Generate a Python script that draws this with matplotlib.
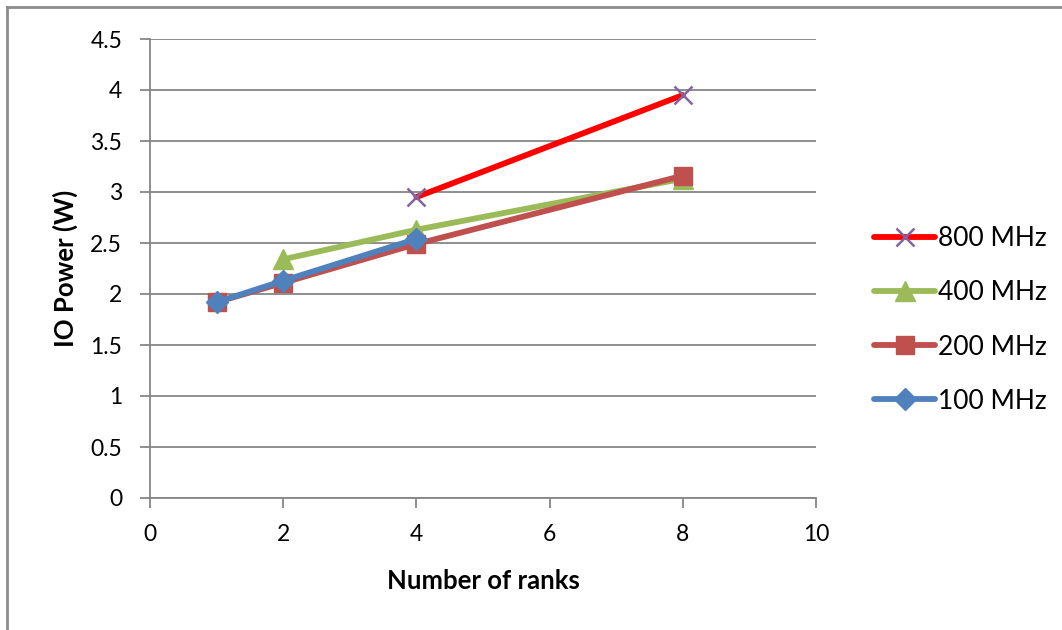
import matplotlib
matplotlib.use("Agg")
import matplotlib.pyplot as plt
from matplotlib.lines import Line2D

plt.rcParams['font.family'] = ['Lato', 'DejaVu Sans']

# Number of ranks per configuration and measured IO power (W)
ranks_800 = [4, 8]
power_800 = [2.95, 3.95]
ranks_400 = [2, 4, 8]
power_400 = [2.34, 2.63, 3.13]
ranks_200 = [1, 2, 4, 8]
power_200 = [1.92, 2.11, 2.49, 3.16]
ranks_100 = [1, 2, 4]
power_100 = [1.92, 2.13, 2.54]

series_labels = ["800 MHz", "400 MHz", "200 MHz", "100 MHz"]
x_ticks = [0, 2, 4, 6, 8, 10]
y_ticks = [0, 0.5, 1, 1.5, 2, 2.5, 3, 3.5, 4, 4.5]

fig = plt.figure(figsize=(10.62, 6.3), dpi=100)
ax = fig.add_axes([150 / 1062, 1 - 498 / 630, (816 - 150) / 1062, (498 - 39) / 630])

grid_color = "#868686"
lw = 4.2

ax.plot(ranks_800, power_800, color="#FF0000", lw=lw, marker="x", ms=13,
        mec="#8064A2", mew=1.8, solid_capstyle="round", label=series_labels[0], zorder=3)
ax.plot(ranks_400, power_400, color="#9BBB59", lw=lw, marker="^", ms=14,
        mec="#9BBB59", mfc="#9BBB59", solid_capstyle="round", label=series_labels[1], zorder=3)
ax.plot(ranks_200, power_200, color="#C0504D", lw=lw, marker="s", ms=13.5,
        mec="#C0504D", mfc="#C0504D", solid_capstyle="round", label=series_labels[2], zorder=4)
ax.plot(ranks_100, power_100, color="#4F81BD", lw=lw, marker="D", ms=11,
        mec="#4F81BD", mfc="#4F81BD", solid_capstyle="round", label=series_labels[3], zorder=5)

ax.set_xlim(0, 10)
ax.set_ylim(0, 4.5)
ax.set_xticks(x_ticks)
ax.set_yticks(y_ticks)
ax.set_yticklabels([f"{v:g}" for v in y_ticks])
ax.grid(axis="y", color=grid_color, lw=1.3)
ax.set_axisbelow(True)

for side in ["top", "right"]:
    ax.spines[side].set_visible(False)
for side in ["left", "bottom"]:
    ax.spines[side].set_color(grid_color)
    ax.spines[side].set_linewidth(1.3)

ax.tick_params(axis="both", direction="out", length=7, width=1.3, color=grid_color,
               labelsize=16.5, labelcolor="black")
ax.tick_params(axis="x", pad=12)
ax.tick_params(axis="y", pad=13)

ax.set_xlabel("Number of ranks", fontsize=18.5, fontweight="bold", labelpad=17)
ax.set_ylabel("IO Power (W)", fontsize=18.5, fontweight="bold", labelpad=9)

leg = ax.legend(loc="center left", bbox_to_anchor=(861 / 1062, 1 - 320 / 630),
                bbox_transform=fig.transFigure, frameon=False, fontsize=19,
                handlelength=2.3, handletextpad=0.1, labelspacing=1.1, borderpad=0)

# Chart-area frame
fig.add_artist(Line2D([6.5 / 1062, 6.5 / 1062], [0, 1 - 6.5 / 630],
                      transform=fig.transFigure, color="#8C8C8C", lw=2))
fig.add_artist(Line2D([6.5 / 1062, 1], [1 - 6.5 / 630, 1 - 6.5 / 630],
                      transform=fig.transFigure, color="#8C8C8C", lw=2))

fig.savefig("out.png", dpi=100, facecolor="white")
